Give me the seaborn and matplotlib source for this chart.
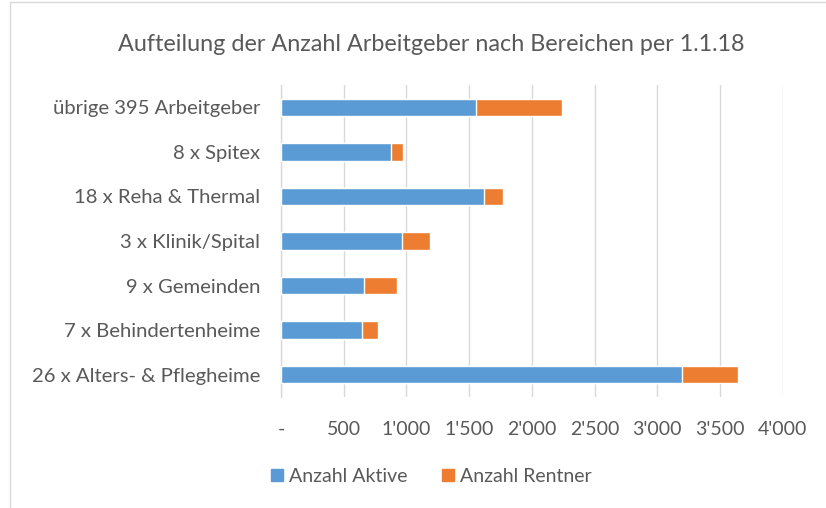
import numpy as np
import pandas as pd
import seaborn as sns
import matplotlib.pyplot as plt
from matplotlib.patches import Patch, Rectangle
from matplotlib.ticker import FuncFormatter

bereiche = ["übrige 395 Arbeitgeber", "8 x Spitex", "18 x Reha & Thermal",
            "3 x Klinik/Spital", "9 x Gemeinden", "7 x Behindertenheime",
            "26 x Alters- & Pflegheime"]
aktive = [1555, 877, 1618, 967, 664, 648, 3196]
rentner = [685, 93, 149, 221, 263, 122, 452]
xticks = [0, 500, 1000, 1500, 2000, 2500, 3000, 3500, 4000]

df = pd.DataFrame({"Bereich": bereiche, "Aktive": aktive, "Rentner": rentner})
df["Total"] = df["Aktive"] + df["Rentner"]

blue = "#5b9bd5"
orange = "#ed7d31"
txt = "#595959"
grid = "#d9d9d9"

sns.set_style("white")
plt.rcParams['font.family'] = ['Lato', 'DejaVu Sans']

fig = plt.figure(figsize=(8.26, 5.08), dpi=100)
ax = fig.add_axes([0.3402, 0.2185, 0.6073, 0.614])

sns.barplot(data=df, y="Bereich", x="Total", color=orange, width=0.39,
            saturation=1, ax=ax, order=bereiche, zorder=2)
sns.barplot(data=df, y="Bereich", x="Aktive", color=blue, width=0.39,
            saturation=1, ax=ax, order=bereiche, zorder=3)

ax.set_xlim(0, 4000)
ax.set_ylim(6.5, -0.5)
ax.set_xticks(xticks)
ax.xaxis.set_major_formatter(FuncFormatter(
    lambda v, p: "-" if v == 0 else f"{int(v):,}".replace(",", "'")))
ax.grid(axis="x", color=grid, linewidth=1, zorder=0)
ax.set_axisbelow(True)
for s in ["top", "right", "bottom"]:
    ax.spines[s].set_visible(False)
ax.spines["left"].set_color(grid)
ax.spines["left"].set_linewidth(1)
ax.tick_params(axis="x", length=0, colors=txt, labelsize=14, pad=17)
ax.tick_params(axis="y", length=0, colors=txt, labelsize=14.6, pad=15)
ax.set_xlabel("")
ax.set_ylabel("")

fig.text(0.522, 0.913, "Aufteilung der Anzahl Arbeitgeber nach Bereichen per 1.1.18",
         ha="center", va="center", fontsize=16.8, color=txt)

handles = [Patch(color=blue, label="Anzahl Aktive"),
           Patch(color=orange, label="Anzahl Rentner")]
fig.legend(handles=handles, loc="center", bbox_to_anchor=(0.522, 0.062), ncol=2,
           frameon=False, fontsize=14, labelcolor=txt, handlelength=0.6,
           handleheight=0.6, handletextpad=0.3, columnspacing=1.8)

fig.patches.append(Rectangle((0.012, -0.01), 1.0, 1.006, transform=fig.transFigure,
                             fill=False, edgecolor=grid, linewidth=1))

fig.savefig("out.png", dpi=100)
